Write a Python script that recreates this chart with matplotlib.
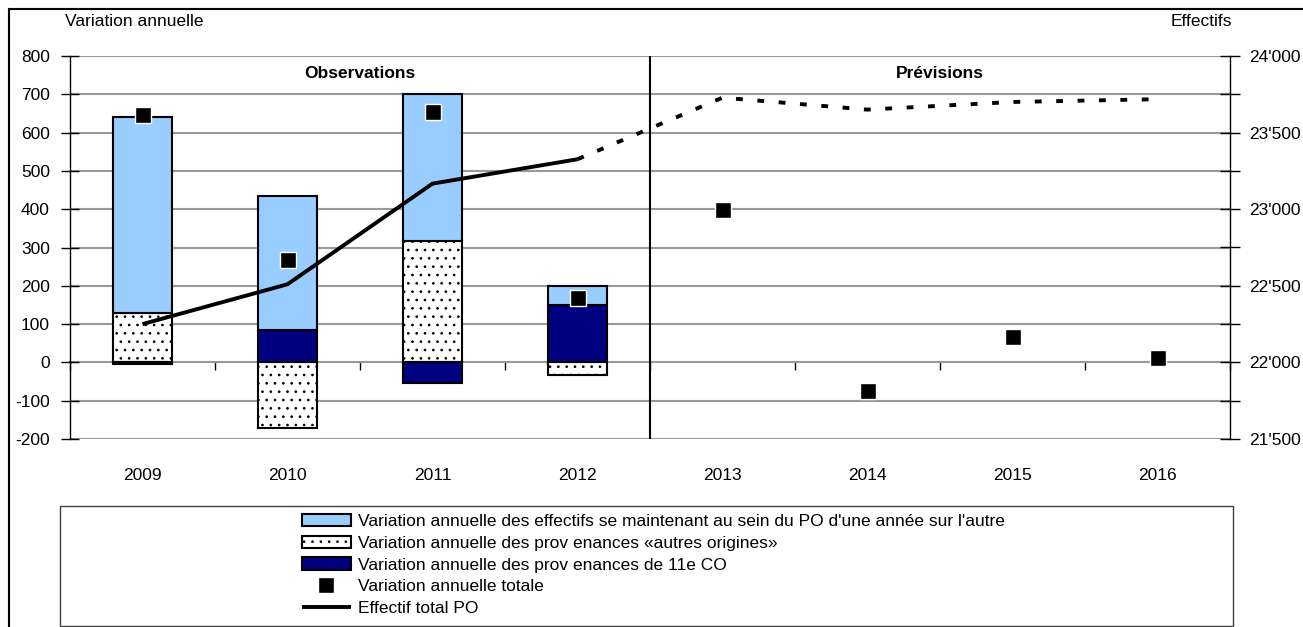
import matplotlib
matplotlib.use('Agg')
import matplotlib.pyplot as plt
from matplotlib.patches import Rectangle
from matplotlib.lines import Line2D
from matplotlib.ticker import FuncFormatter
import numpy as np

plt.rcParams['font.family'] = ['Liberation Sans', 'DejaVu Sans']
plt.rcParams['font.size'] = 12.5
plt.rcParams['axes.unicode_minus'] = False
plt.rcParams['hatch.linewidth'] = 0.7

years = ['2009', '2010', '2011', '2012', '2013', '2014', '2015', '2016']
n_obs = 4

# observed components (left axis)
autres = [130, -172, 318, -33]
co11 = [-3, 85, -55, 150]
maintien = [512, 350, 382, 50]

total_var = [645, 267, 655, 168, 398, -74, 66, 12]
effectif = [22250, 22510, 23167, 23326, 23728, 23650, 23700, 23718]

lbl_maintien = "Variation annuelle des effectifs se maintenant au sein du PO d'une année sur l'autre"
lbl_autres = "Variation annuelle des prov enances «autres origines»"
lbl_co11 = "Variation annuelle des prov enances de 11e CO"
lbl_total = "Variation annuelle totale"
lbl_eff = "Effectif total PO"

fig = plt.figure(figsize=(13.03, 6.27), dpi=100)
ax = fig.add_axes([70/1303, 1-439/627, 1160/1303, 383/627])
ax2 = ax.twinx()

x = np.arange(len(years))
xo = x[:n_obs]
w = 0.41

pos_bottom = np.zeros(n_obs)
neg_bottom = np.zeros(n_obs)
series = [
    (autres, 'white', '..', lbl_autres),
    (co11, '#000080', None, lbl_co11),
    (maintien, '#99CCFF', None, lbl_maintien),
]
handles = {}
for vals, col, hatch, lbl in series:
    v = np.array(vals, dtype=float)
    bottom = np.where(v >= 0, pos_bottom, neg_bottom)
    b = ax.bar(xo, v, w, bottom=bottom, color=col, edgecolor='black',
               linewidth=1.5, hatch=hatch, label=lbl, zorder=2)
    handles[lbl] = b
    pos_bottom = pos_bottom + np.where(v > 0, v, 0)
    neg_bottom = neg_bottom + np.where(v < 0, v, 0)

mk, = ax.plot(x, total_var, linestyle='none', marker='s', markersize=11,
              markerfacecolor='black', markeredgecolor='white', markeredgewidth=1,
              label=lbl_total, zorder=4)
handles[lbl_total] = mk

ax.set_xlim(-0.5, len(years) - 0.5)
ax.set_ylim(-200, 800)
ax.set_yticks(range(-200, 801, 100))
ax.set_axisbelow(True)
ax.grid(axis='y', color='#999999', linewidth=1.5)
ax.tick_params(axis='y', direction='inout', length=13, width=1, pad=8)
ax.set_xticks(x, years)
ax.tick_params(axis='x', length=0, pad=21)
for s in ['top', 'bottom', 'right']:
    ax.spines[s].set_visible(False)
ax.spines['left'].set_linewidth(1)

# zero axis with category ticks
ymin, ymax = ax.get_ylim()
sec = ax.secondary_xaxis((0 - ymin) / (ymax - ymin))
sec.set_alignment('bottom')
sec.set_xticks(np.arange(len(years) + 1) - 0.5)
sec.tick_params(axis='x', direction='out', length=6, width=1, labelbottom=False, labeltop=False)
sec.spines['bottom'].set_linewidth(1.2)

ax.axvline(n_obs - 0.5, color='black', linewidth=1.5, zorder=3)
ax.text((n_obs - 1) / 2, 755, 'Observations', ha='center', va='center',
        fontweight='bold')
ax.text(n_obs + (len(years) - n_obs - 1) / 2, 755, 'Prévisions', ha='center',
        va='center', fontweight='bold')

# right axis: total headcount
ln, = ax2.plot(x[:n_obs], effectif[:n_obs], color='black', linewidth=2.8,
               solid_capstyle='butt', label=lbl_eff)
ax2.plot(x[n_obs - 1:], effectif[n_obs - 1:], color='black', linewidth=2.8,
         linestyle=(0, (1.75, 3.75)), dash_capstyle='butt')
handles[lbl_eff] = ln
ax2.set_ylim(21500, 24000)
ax2.set_yticks(range(21500, 24001, 250))
ax2.yaxis.set_major_formatter(FuncFormatter(
    lambda v, p: f"{int(v)//1000}'{int(v) % 1000:03d}" if int(v) % 500 == 0 else ''))
ax2.tick_params(axis='y', direction='inout', length=15, width=1, pad=6)
for s in ['top', 'bottom', 'left']:
    ax2.spines[s].set_visible(False)
ax2.spines['right'].set_linewidth(1)

fig.text(65/1303, 1-22/627, 'Variation annuelle', ha='left', va='center')
fig.text(1232/1303, 1-22/627, 'Effectifs', ha='right', va='center')

# legend
order = [lbl_maintien, lbl_autres, lbl_co11, lbl_total, lbl_eff]
fig.legend([handles[k] for k in order], order, loc='upper left',
           bbox_to_anchor=(302/1303, 1-514/627), frameon=False, borderpad=0,
           borderaxespad=0, handlelength=2.8, handletextpad=0.45,
           labelspacing=0.38)
fig.patches.append(Rectangle((60/1303, 1-626/627), 1173/1303, 120/627,
                             transform=fig.transFigure, fill=False,
                             edgecolor='#404040', linewidth=1))

# outer frame
fig.lines.append(Line2D([9/1303, 1], [1-9/627, 1-9/627], transform=fig.transFigure,
                        color='black', linewidth=1.5))
fig.lines.append(Line2D([9/1303, 9/1303], [0, 1-9/627], transform=fig.transFigure,
                        color='black', linewidth=1.5))

fig.savefig('out.png', dpi=100)
